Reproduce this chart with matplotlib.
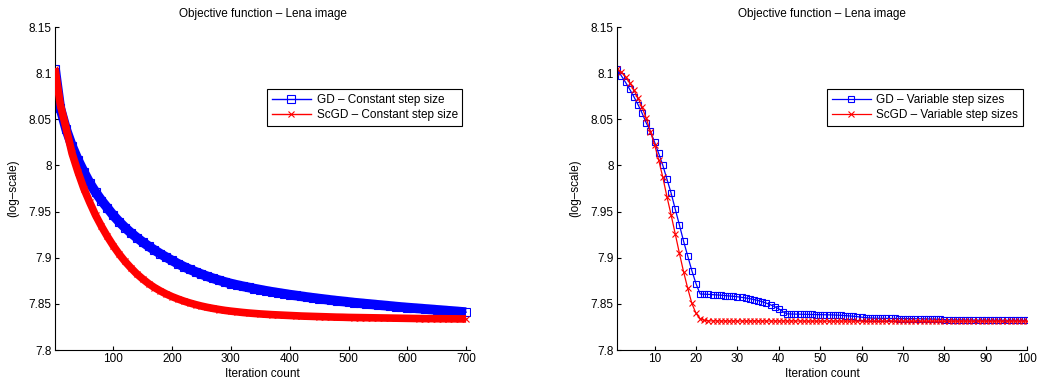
import numpy as np
import matplotlib
matplotlib.use("Agg")
import matplotlib.pyplot as plt

plt.rcParams['font.family'] = ['Liberation Sans', 'DejaVu Sans']
plt.rcParams['font.size'] = 8.5

# ---------------------------
#  DATOS - paso constante (cada 10 iteraciones)
# ---------------------------
iter_const = [1, 10, 20, 30, 40, 50, 60, 70, 80, 90, 100,
              110, 120, 130, 140, 150, 160, 170, 180, 190, 200,
              210, 220, 230, 240, 250, 260, 270, 280, 290, 300,
              310, 320, 330, 340, 350, 360, 370, 380, 390, 400,
              410, 420, 430, 440, 450, 460, 470, 480, 490, 500,
              510, 520, 530, 540, 550, 560, 570, 580, 590, 600,
              610, 620, 630, 640, 650, 660, 670, 680, 690, 700]

gd_const = [8.105, 8.062, 8.039, 8.021, 8.006, 7.993, 7.981, 7.971, 7.962, 7.954, 7.946,
            7.9390, 7.9327, 7.9270, 7.9218, 7.9170, 7.9125, 7.9083, 7.9043, 7.9006, 7.8970,
            7.8935, 7.8903, 7.8874, 7.8847, 7.8822, 7.8798, 7.8776, 7.8756, 7.8737, 7.8720,
            7.8705, 7.8691, 7.8678, 7.8665, 7.8653, 7.8641, 7.8630, 7.8620, 7.8610, 7.8600,
            7.8591, 7.8582, 7.8573, 7.8565, 7.8557, 7.8549, 7.8541, 7.8534, 7.8527, 7.8520,
            7.8513, 7.8507, 7.8501, 7.8495, 7.8489, 7.8483, 7.8477, 7.8471, 7.8465, 7.8460,
            7.8455, 7.8450, 7.8445, 7.8440, 7.8435, 7.8430, 7.8425, 7.8420, 7.8415, 7.8410]

scgd_const = [8.105, 8.066, 8.040, 8.013, 7.993, 7.975, 7.960, 7.946, 7.934, 7.923, 7.913,
              7.9040, 7.8960, 7.8890, 7.8825, 7.8770, 7.8720, 7.8677, 7.8640, 7.8607, 7.8578,
              7.8553, 7.8530, 7.8510, 7.8492, 7.8476, 7.8462, 7.8450, 7.8439, 7.8429, 7.8421,
              7.8414, 7.8407, 7.8401, 7.8396, 7.8391, 7.8387, 7.8383, 7.8380, 7.8377, 7.8374,
              7.8371, 7.8368, 7.8366, 7.8364, 7.8362, 7.8360, 7.8358, 7.8356, 7.8355, 7.8353,
              7.8352, 7.8351, 7.8350, 7.8349, 7.8348, 7.8347, 7.8346, 7.8345, 7.8344, 7.8343,
              7.8342, 7.8341, 7.8340, 7.8340, 7.8339, 7.8339, 7.8338, 7.8338, 7.8337, 7.8337]

# ---------------------------
#  DATOS - paso variable (100 iteraciones)
# ---------------------------
iter_var = list(range(1, 101))

gd_var = [8.104, 8.097, 8.090, 8.0825, 8.0745, 8.066, 8.0565, 8.046, 8.037, 8.0254,
          8.013, 8.000, 7.985, 7.970, 7.9525, 7.9355, 7.918, 7.902, 7.886, 7.872,
          7.8607, 7.8605, 7.8603, 7.8600, 7.8597, 7.8594, 7.8590, 7.8586, 7.8582, 7.8577,
          7.8571, 7.8564, 7.8556, 7.8547, 7.8536, 7.8523, 7.8508, 7.8490, 7.8470, 7.8446,
          7.8415, 7.8392, 7.8390, 7.8389, 7.8388, 7.8387, 7.8386, 7.8385, 7.8384, 7.8383,
          7.8382, 7.8381, 7.8380, 7.8378, 7.8376, 7.8373, 7.8370, 7.8366, 7.8361, 7.8356,
          7.8351, 7.8347, 7.8345, 7.8344, 7.8343, 7.8343, 7.8342, 7.8342, 7.8341, 7.8341,
          7.8340, 7.8340, 7.8339, 7.8339, 7.8338, 7.8337, 7.8336, 7.8334, 7.8332, 7.8330,
          7.8328, 7.8327, 7.8326, 7.8326, 7.8325, 7.8325, 7.8325, 7.8324, 7.8324, 7.8324,
          7.8323, 7.8323, 7.8323, 7.8323, 7.8322, 7.8322, 7.8322, 7.8322, 7.8321, 7.8321]

scgd_var = [8.104, 8.1012, 8.096, 8.0897, 8.0817, 8.073, 8.063, 8.051, 8.0366, 8.0225,
            8.0059, 7.987, 7.966, 7.9463, 7.9257, 7.9048, 7.8849, 7.8669, 7.8506, 7.8398,
            7.8340, 7.8320, 7.8316, 7.8315, 7.8315, 7.8314, 7.8314, 7.8314, 7.8314, 7.8314,
            7.8314, 7.8314, 7.8314, 7.8314, 7.8314, 7.8314, 7.8314, 7.8314, 7.8314, 7.8314,
            7.8314, 7.8314, 7.8314, 7.8314, 7.8314, 7.8313, 7.8313, 7.8313, 7.8313, 7.8313,
            7.8313, 7.8313, 7.8313, 7.8313, 7.8313, 7.8313, 7.8313, 7.8313, 7.8313, 7.8313,
            7.8313, 7.8313, 7.8313, 7.8313, 7.8313, 7.8313, 7.8313, 7.8313, 7.8313, 7.8313,
            7.8312, 7.8312, 7.8312, 7.8312, 7.8312, 7.8312, 7.8312, 7.8312, 7.8312, 7.8312,
            7.8312, 7.8312, 7.8312, 7.8312, 7.8312, 7.8312, 7.8312, 7.8312, 7.8312, 7.8312,
            7.8312, 7.8312, 7.8312, 7.8312, 7.8312, 7.8312, 7.8312, 7.8312, 7.8312, 7.8312]

yticks = [7.8, 7.85, 7.9, 7.95, 8.0, 8.05, 8.1, 8.15]
ytick_labels = ['7.8', '7.85', '7.9', '7.95', '8', '8.05', '8.1', '8.15']

titulo = 'Objective function \u2013 Lena image'
fs = 8.5


def estilo(ax, xticks):
    ax.set_ylim(7.8, 8.15)
    ax.set_yticks(yticks)
    ax.set_yticklabels(ytick_labels)
    ax.set_xticks(xticks)
    ax.spines['top'].set_visible(False)
    ax.spines['right'].set_visible(False)
    for s in ['left', 'bottom']:
        ax.spines[s].set_linewidth(0.8)
    ax.tick_params(direction='in', length=3, width=0.8, pad=2.5, labelsize=fs)
    ax.set_title(titulo, fontsize=fs, pad=7)
    ax.set_xlabel('Iteration count', fontsize=fs, labelpad=2)
    ax.set_ylabel('(log\u2013scale)', fontsize=fs)
    ax.yaxis.set_label_coords(-0.087, 0.5)


fig = plt.figure(figsize=(10.42, 3.88), dpi=100)

# ---------------------------
#  PASO CONSTANTE
# ---------------------------
ax1 = fig.add_axes([0.0528, 0.0979, 0.3985, 0.8325])
# banda gruesa (los marcadores en el original se solapan)
ax1.plot(iter_const, gd_const, color='blue', lw=7, solid_capstyle='butt', zorder=2)
ax1.plot(iter_const, scgd_const, color='red', lw=5.5, solid_capstyle='butt', zorder=3)
l1, = ax1.plot(iter_const, gd_const, color='blue', lw=1, marker='s', ms=5.5,
               mfc='none', mec='blue', mew=0.8, zorder=2)
l2, = ax1.plot(iter_const, scgd_const, color='red', lw=1, marker='x', ms=5,
               mec='red', mew=0.8, zorder=3)
ax1.set_xlim(1, 707)
estilo(ax1, [100, 200, 300, 400, 500, 600, 700])
leg1 = ax1.legend([l1, l2], ['GD \u2013 Constant step size', 'ScGD \u2013 Constant step size'],
                  loc='upper right', bbox_to_anchor=(0.981, 0.808), fontsize=fs,
                  fancybox=False, framealpha=1, edgecolor='black', handlelength=3.3,
                  handletextpad=0.5, borderpad=0.4, labelspacing=0.3, borderaxespad=0)
leg1.get_frame().set_linewidth(0.8)

# ---------------------------
#  PASO VARIABLE
# ---------------------------
ax2 = fig.add_axes([0.5924, 0.0979, 0.3935, 0.8325])
l3, = ax2.plot(iter_var, gd_var, color='blue', lw=0.9, marker='s', ms=5,
               mfc='none', mec='blue', mew=0.8)
l4, = ax2.plot(iter_var, scgd_var, color='red', lw=0.9, marker='x', ms=4.5,
               mec='red', mew=0.8)
ax2.set_xlim(1, 100)
estilo(ax2, [10, 20, 30, 40, 50, 60, 70, 80, 90, 100])
leg2 = ax2.legend([l3, l4], ['GD \u2013 Variable step sizes', 'ScGD \u2013 Variable step sizes'],
                  loc='upper right', bbox_to_anchor=(0.9895, 0.808), fontsize=fs,
                  fancybox=False, framealpha=1, edgecolor='black', handlelength=3.3,
                  handletextpad=0.5, borderpad=0.4, labelspacing=0.3, borderaxespad=0)
leg2.get_frame().set_linewidth(0.8)

fig.savefig('out.png', dpi=100)
